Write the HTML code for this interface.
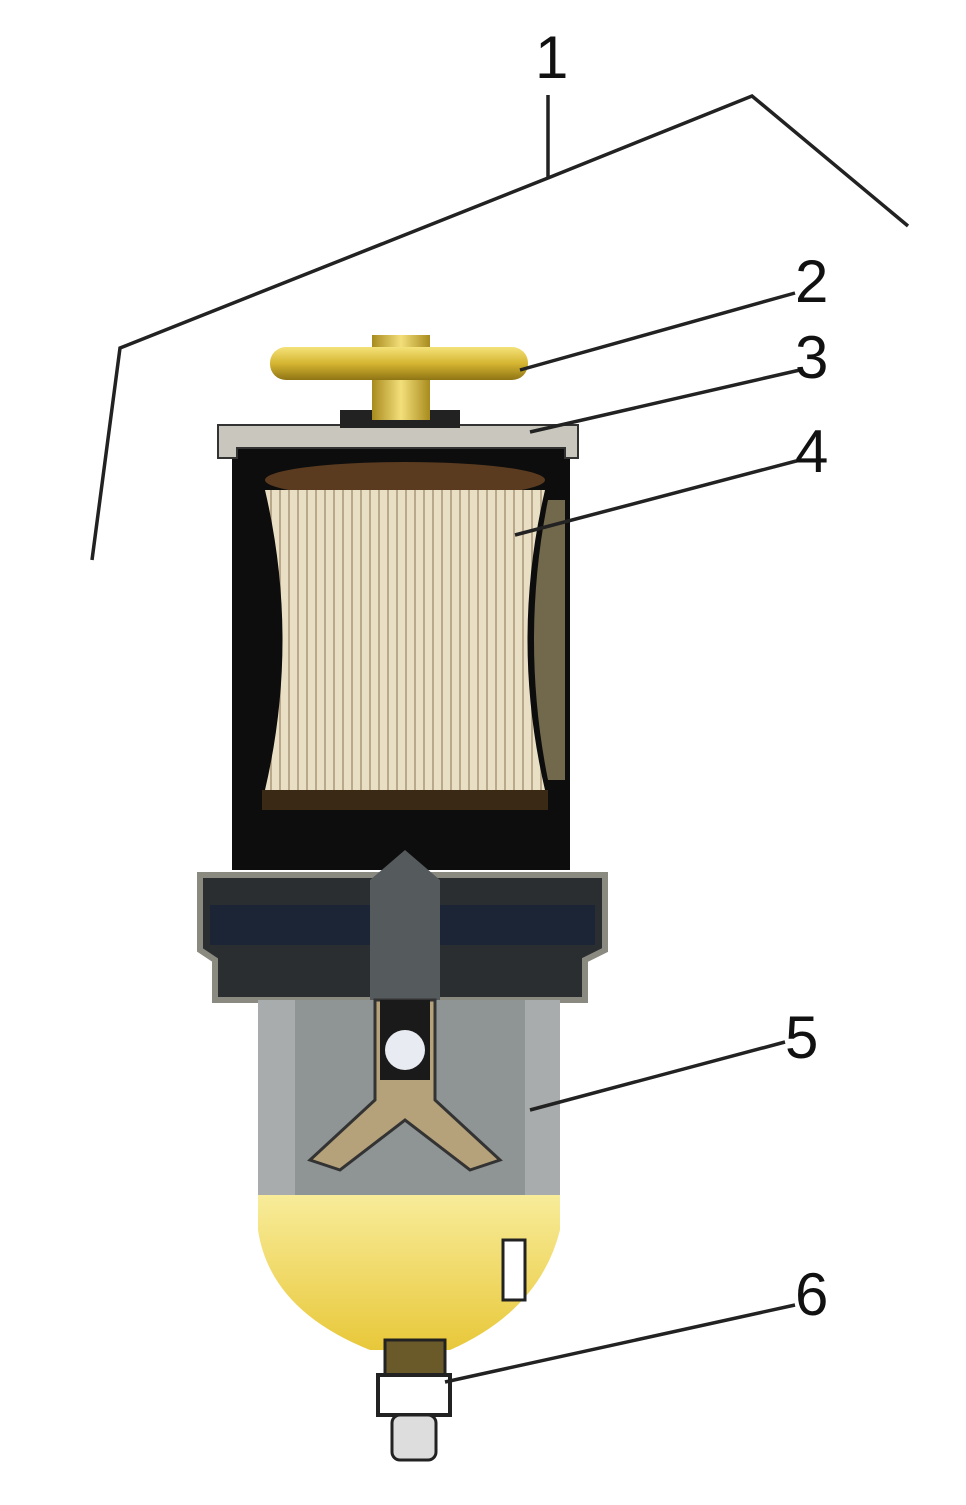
<!DOCTYPE html>
<html><head><style>
html,body{margin:0;padding:0;background:#fff;}
svg{display:block}
text{font-family:"Liberation Sans",sans-serif;font-size:60px;fill:#111}
</style></head><body>
<svg width="966" height="1505" viewBox="0 0 966 1505" xmlns="http://www.w3.org/2000/svg">
<defs>
<pattern id="pleat" width="9" height="10" patternUnits="userSpaceOnUse">
<rect width="9" height="10" fill="#e9dfc4"/><rect width="2" height="10" fill="#b9a98a"/>
</pattern>
<linearGradient id="gold" x1="0" y1="0" x2="0" y2="1"><stop offset="0" stop-color="#f4e27a"/><stop offset="0.5" stop-color="#d5b531"/><stop offset="1" stop-color="#8f7415"/></linearGradient>
<linearGradient id="goldv" x1="0" y1="0" x2="1" y2="0"><stop offset="0" stop-color="#a88b1e"/><stop offset="0.5" stop-color="#f3df7a"/><stop offset="1" stop-color="#a88b1e"/></linearGradient>
<linearGradient id="fuel" x1="0" y1="0" x2="0" y2="1"><stop offset="0" stop-color="#f8ec9a"/><stop offset="1" stop-color="#e8c83a"/></linearGradient>
</defs>
<!-- upper housing -->
<rect x="232" y="440" width="338" height="430" fill="#0d0d0d"/>
<path d="M218,425 L578,425 L578,458 L565,458 L565,448 L237,448 L237,458 L218,458 Z" fill="#c9c7bd" stroke="#333" stroke-width="2"/>
<rect x="340" y="410" width="120" height="18" fill="#222"/>
<!-- filter element -->
<ellipse cx="405" cy="480" rx="140" ry="18" fill="#5a3b20"/>
<path d="M265,490 L545,490 Q510,640 545,790 L265,790 Q300,640 265,490 Z" fill="url(#pleat)"/>
<rect x="262" y="790" width="286" height="20" fill="#3a2a15"/>
<path d="M548,500 Q520,640 548,780 L565,780 L565,500Z" fill="#d8c48a" opacity="0.5"/>
<!-- T-handle -->
<rect x="372" y="335" width="58" height="85" fill="url(#goldv)"/>
<rect x="270" y="347" width="258" height="33" rx="16" fill="url(#gold)"/>
<!-- middle flange -->
<path d="M200,875 L605,875 L605,950 L585,960 L585,1000 L215,1000 L215,960 L200,950 Z" fill="#2b2e30" stroke="#8b8a80" stroke-width="6"/>
<rect x="210" y="905" width="385" height="40" fill="#1b2535"/>
<path d="M370,880 L405,850 L440,880 L440,1000 L370,1000 Z" fill="#555a5c"/>
<!-- bowl -->
<rect x="258" y="1000" width="302" height="195" fill="#a9acac"/>
<rect x="295" y="1000" width="230" height="195" fill="#8f9494"/>
<path d="M375,1000 L435,1000 L435,1100 L500,1160 L470,1170 L405,1120 L340,1170 L310,1160 L375,1100 Z" fill="#b5a27a" stroke="#333" stroke-width="3"/>
<rect x="380" y="1000" width="50" height="80" fill="#1a1a1a"/>
<circle cx="405" cy="1050" r="20" fill="#e8ecf2"/>
<path d="M258,1195 L560,1195 L560,1230 Q540,1310 450,1350 L370,1350 Q270,1310 258,1230 Z" fill="url(#fuel)"/>
<rect x="503" y="1240" width="22" height="60" fill="#fff" stroke="#222" stroke-width="3"/>
<!-- drain -->
<rect x="385" y="1340" width="60" height="40" fill="#6a5a2a" stroke="#222" stroke-width="3"/>
<rect x="378" y="1375" width="72" height="40" fill="#fff" stroke="#222" stroke-width="4"/>
<rect x="392" y="1415" width="44" height="45" rx="8" fill="#ddd" stroke="#222" stroke-width="3"/>
<!-- labels & leaders -->
<g stroke="#222" stroke-width="3.5" fill="none">
<polyline points="92,560 120,348 548,178 752,96 908,226"/>
<line x1="548" y1="95" x2="548" y2="178"/>
<line x1="520" y1="370" x2="795" y2="293"/>
<line x1="530" y1="432" x2="800" y2="370"/>
<line x1="515" y1="535" x2="800" y2="460"/>
<line x1="530" y1="1110" x2="785" y2="1042"/>
<line x1="445" y1="1382" x2="795" y2="1305"/>
</g>
<text x="535" y="78">1</text>
<text x="795" y="302">2</text>
<text x="795" y="378">3</text>
<text x="795" y="472">4</text>
<text x="785" y="1058">5</text>
<text x="795" y="1315">6</text>
</svg>
</body></html>
